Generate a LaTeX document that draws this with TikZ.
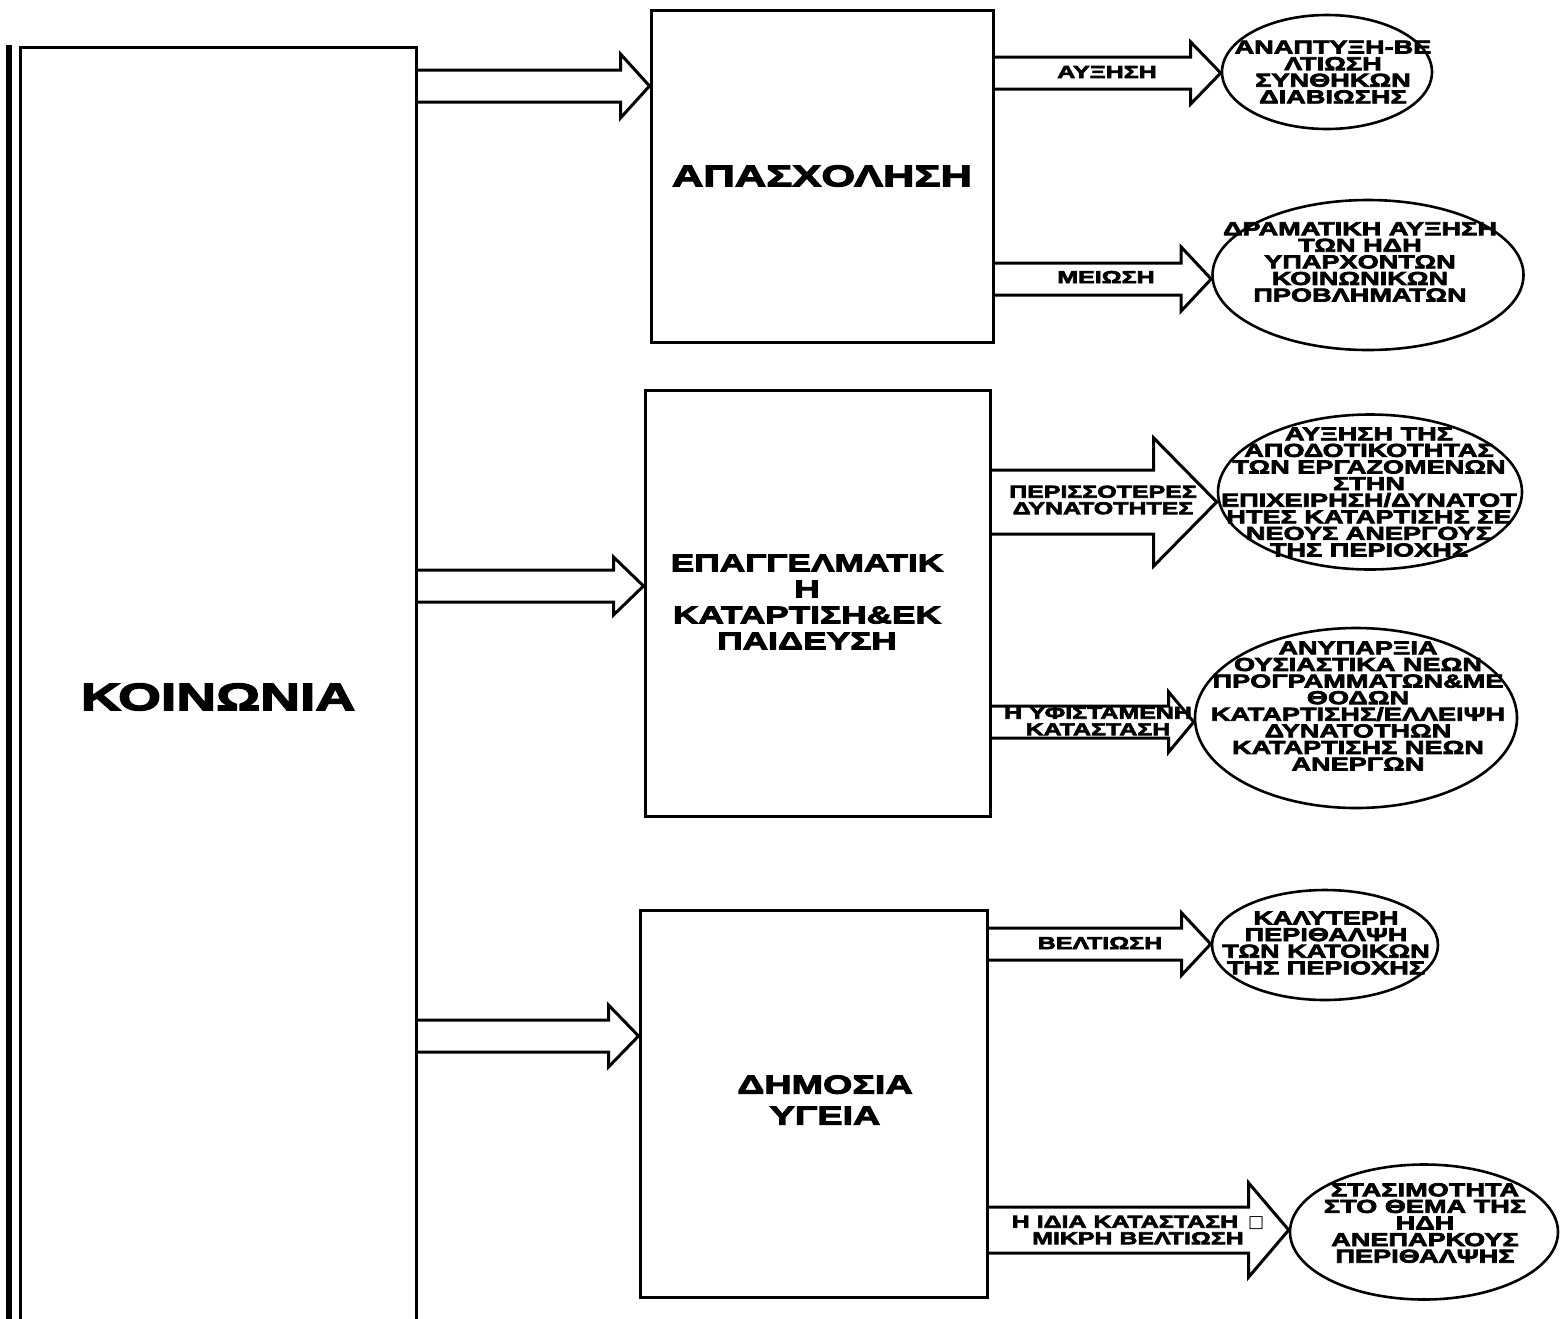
\documentclass[tikz,border=0pt]{standalone}
\usepackage{fontspec}
\newfontfamily\gr{Liberation Sans}[FakeStretch=1.45, BoldFeatures={FakeBold=4}]
\newfontfamily\sym{DejaVu Sans}
\usetikzlibrary{calc,shapes.geometric}
\tikzset{
  box/.style={draw, line width=3pt, inner sep=0pt, align=center},
  oval/.style={draw, ellipse, line width=2.6pt, inner sep=0pt},
  arrline/.style={line width=3pt, line join=miter},
  txt/.style={font=\gr\bfseries\fontsize{18.7}{16.6}\selectfont, align=center, inner sep=0pt},
  lab/.style={font=\gr\bfseries\fontsize{17.2}{16.5}\selectfont, align=center, inner sep=0pt},
}
% #1 start node anchor, #2 tip node anchor, #3 coordinate giving the centre line,
% #4 shaft half height, #5 head half height, #6 head length
\newcommand{\blockarr}[6]{%
  \draw[arrline] let \p1=(#1 |- #3), \p2=(#2 |- #3) in
    (\x1,\y1+#4) -- (\x2-#6,\y1+#4) -- (\x2-#6,\y1+#5) -- (\x2,\y1)
    -- (\x2-#6,\y1-#5) -- (\x2-#6,\y1-#4) -- (\x1,\y1-#4);}
\begin{document}
\begin{tikzpicture}[x=1pt,y=-1pt]
\useasboundingbox (0,0) rectangle (1561,1318);
\clip (0,0) rectangle (1561,1318);

% left box
\node[box, minimum width=396pt, minimum height=1300pt,
      font=\gr\bfseries\fontsize{38}{40}\selectfont] (koin) at (218,697) {ΚΟΙΝΩΝΙΑ};
\draw[line width=6pt] (9,45) -- (9,1330);

% middle boxes
\node[box, minimum width=342pt, minimum height=332pt,
      font=\gr\bfseries\fontsize{30}{30}\selectfont] (b1) at (822,176) {ΑΠΑΣΧΟΛΗΣΗ};
\node[box, minimum width=345pt, minimum height=426pt] (b2) at (817.5,603) {};
\node[font=\gr\bfseries\fontsize{24.3}{26}\selectfont, align=center, inner sep=0pt]
      (b2t) at (807,602) {ΕΠΑΓΓΕΛΜΑΤΙΚ\\Η\\ΚΑΤΑΡΤΙΣΗ\&ΕΚ\\ΠΑΙΔΕΥΣΗ};
\node[box, minimum width=347pt, minimum height=387pt] (b3) at (813.5,1103.5) {};
\node[font=\gr\bfseries\fontsize{26}{31}\selectfont, align=center, inner sep=0pt]
      (b3t) at (825,1100) {ΔΗΜΟΣΙΑ\\ΥΓΕΙΑ};

% ellipses
\node[oval, minimum width=210pt, minimum height=114pt] (e1) at (1327,72) {};
\node[oval, minimum width=311pt, minimum height=150pt] (e2) at (1368,275) {};
\node[oval, minimum width=304pt, minimum height=155pt] (e3) at (1370,492) {};
\node[oval, minimum width=322pt, minimum height=180pt] (e4) at (1356,718) {};
\node[oval, minimum width=226pt, minimum height=110pt] (e5) at (1325,945) {};
\node[oval, minimum width=268pt, minimum height=135pt] (e6) at (1424,1232) {};

\node[txt] (t1) at (1333,72) {ΑΝΑΠΤΥΞΗ-ΒΕ\\ΛΤΙΩΣΗ\\ΣΥΝΘΗΚΩΝ\\ΔΙΑΒΙΩΣΗΣ};
\node[txt] (t2) at (1360,262) {ΔΡΑΜΑΤΙΚΗ ΑΥΞΗΣΗ\\ΤΩΝ ΗΔΗ\\ΥΠΑΡΧΟΝΤΩΝ\\ΚΟΙΝΩΝΙΚΩΝ\\ΠΡΟΒΛΗΜΑΤΩΝ};
\node[txt] (t3) at (1369,492) {ΑΥΞΗΣΗ ΤΗΣ\\ΑΠΟΔΟΤΙΚΟΤΗΤΑΣ\\ΤΩΝ ΕΡΓΑΖΟΜΕΝΩΝ\\ΣΤΗΝ\\ΕΠΙΧΕΙΡΗΣΗ/ΔΥΝΑΤΟΤ\\ΗΤΕΣ ΚΑΤΑΡΤΙΣΗΣ ΣΕ\\ΝΕΟΥΣ ΑΝΕΡΓΟΥΣ\\ΤΗΣ ΠΕΡΙΟΧΗΣ};
\node[txt] (t4) at (1358,706) {ΑΝΥΠΑΡΞΙΑ\\ΟΥΣΙΑΣΤΙΚΑ ΝΕΩΝ\\ΠΡΟΓΡΑΜΜΑΤΩΝ\&ΜΕ\\ΘΟΔΩΝ\\ΚΑΤΑΡΤΙΣΗΣ/ΕΛΛΕΙΨΗ\\ΔΥΝΑΤΟΤΗΩΝ\\ΚΑΤΑΡΤΙΣΗΣ ΝΕΩΝ\\ΑΝΕΡΓΩΝ};
\node[txt] (t5) at (1326,943) {ΚΑΛΥΤΕΡΗ\\ΠΕΡΙΘΑΛΨΗ\\ΤΩΝ ΚΑΤΟΙΚΩΝ\\ΤΗΣ ΠΕΡΙΟΧΗΣ};
\node[txt] (t6) at (1425,1223) {ΣΤΑΣΙΜΟΤΗΤΑ\\ΣΤΟ ΘΕΜΑ ΤΗΣ\\ΗΔΗ\\ΑΝΕΠΑΡΚΟΥΣ\\ΠΕΡΙΘΑΛΨΗΣ};

% centre lines of the block arrows
\coordinate (ya1) at (0,86);
\coordinate (ya2) at (0,586);
\coordinate (ya3) at (0,1036);
\coordinate (yr1) at (0,73);
\coordinate (yr2) at (0,279);
\coordinate (yr3) at (0,502);
\coordinate (yr4) at (0,722);
\coordinate (yr5) at (0,944);
\coordinate (yr6) at (0,1230);

% arrows from society to the three fields
\blockarr{koin.east}{b1.west}{ya1}{16pt}{32pt}{29pt}
\blockarr{koin.east}{b2.west}{ya2}{16pt}{29pt}{30pt}
\blockarr{koin.east}{b3.west}{ya3}{16pt}{31pt}{30pt}

% arrows to the outcomes
\blockarr{b1.east}{e1.west}{yr1}{16pt}{31pt}{30pt}
\blockarr{b1.east}{e2.west}{yr2}{16pt}{32pt}{30pt}
\blockarr{b2.east}{e3.west}{yr3}{32pt}{64pt}{63pt}
\blockarr{b2.east}{e4.west}{yr4}{16pt}{30pt}{25pt}
\blockarr{b3.east}{e5.west}{yr5}{16pt}{31pt}{29pt}
\blockarr{b3.east}{e6.west}{yr6}{23pt}{47pt}{40pt}

% arrow labels
\node[lab] (l1) at (1107,72) {ΑΥΞΗΣΗ};
\node[lab] (l2) at (1106,277) {ΜΕΙΩΣΗ};
\node[lab] (l3) at (1103,500) {ΠΕΡΙΣΣΟΤΕΡΕΣ\\ΔΥΝΑΤΟΤΗΤΕΣ};
\node[lab] (l4) at (1098,721) {Η ΥΦΙΣΤΑΜΕΝΗ\\ΚΑΤΑΣΤΑΣΗ};
\node[lab] (l5) at (1100,943) {ΒΕΛΤΙΩΣΗ};
\node[lab] (l6) at (1138,1230) {Η ΙΔΙΑ ΚΑΤΑΣΤΑΣΗ\hspace{10pt}{\sym\mdseries\fontsize{17}{17}\selectfont □}\\ΜΙΚΡΗ ΒΕΛΤΙΩΣΗ};
\end{tikzpicture}
\end{document}
